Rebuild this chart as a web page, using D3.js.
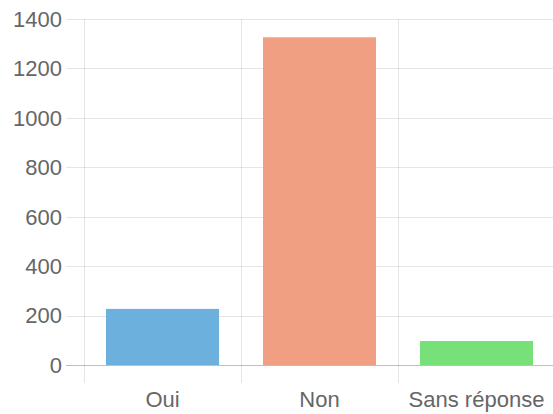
<!DOCTYPE html>
<html>
<head>
<meta charset="utf-8">
<script src="https://cdn.jsdelivr.net/npm/d3@7"></script>
<style>
body { margin: 0; background: #fff; }
svg text { font-family: "Liberation Sans", Arial, sans-serif; fill: #666; }
</style>
</head>
<body>
<div id="chart"></div>
<script>
var categories = ["Oui", "Non", "Sans réponse"];
var values = [227, 1326, 97];
var barColors = ["#6cb1de", "#f19f83", "#77e079"];
var yTicks = [0, 200, 400, 600, 800, 1000, 1200, 1400];

var width = 553, height = 414;
var plotLeft = 84, plotRight = 555, plotTop = 19, plotBottom = 365;

var svg = d3.select('#chart').append('svg')
	.attr('width', width)
	.attr('height', height);

var x = d3.scaleBand()
	.domain(categories)
	.range([plotLeft, plotRight]);

var y = d3.scaleLinear()
	.domain([0, 1400])
	.range([plotBottom, plotTop]);

// horizontal grid
svg.append('g')
	.selectAll('line')
	.data(yTicks)
	.enter()
	.append('line')
	.attr('x1', plotLeft - 18)
	.attr('x2', plotRight)
	.attr('y1', function(d) { return Math.round(y(d)) + 0.5; })
	.attr('y2', function(d) { return Math.round(y(d)) + 0.5; })
	.attr('stroke', function(d) { return d === 0 ? 'rgba(0,0,0,0.25)' : 'rgba(0,0,0,0.1)'; })
	.attr('stroke-width', 1);

// vertical grid
svg.append('g')
	.selectAll('line')
	.data(categories)
	.enter()
	.append('line')
	.attr('x1', function(d) { return Math.round(x(d)) + 0.5; })
	.attr('x2', function(d) { return Math.round(x(d)) + 0.5; })
	.attr('y1', plotTop)
	.attr('y2', plotBottom + 18)
	.attr('stroke', 'rgba(0,0,0,0.1)');

// bars
var barW = x.bandwidth() * 0.72;
svg.append('g')
	.selectAll('rect')
	.data(values)
	.enter()
	.append('rect')
	.attr('x', function(d, i) { return x(categories[i]) + (x.bandwidth() - barW) / 2; })
	.attr('y', function(d) { return y(d); })
	.attr('width', barW)
	.attr('height', function(d) { return plotBottom - y(d); })
	.attr('fill', function(d, i) { return barColors[i]; });

// y labels
svg.append('g')
	.selectAll('text')
	.data(yTicks)
	.enter()
	.append('text')
	.attr('x', 62)
	.attr('y', function(d) { return y(d); })
	.attr('dy', '0.36em')
	.attr('text-anchor', 'end')
	.attr('font-size', '22px')
	.text(function(d) { return d; });

// x labels
svg.append('g')
	.selectAll('text')
	.data(categories)
	.enter()
	.append('text')
	.attr('x', function(d) { return x(d) + x.bandwidth() / 2; })
	.attr('y', 407)
	.attr('text-anchor', 'middle')
	.attr('font-size', '22px')
	.text(function(d) { return d; });
</script>
</body>
</html>
